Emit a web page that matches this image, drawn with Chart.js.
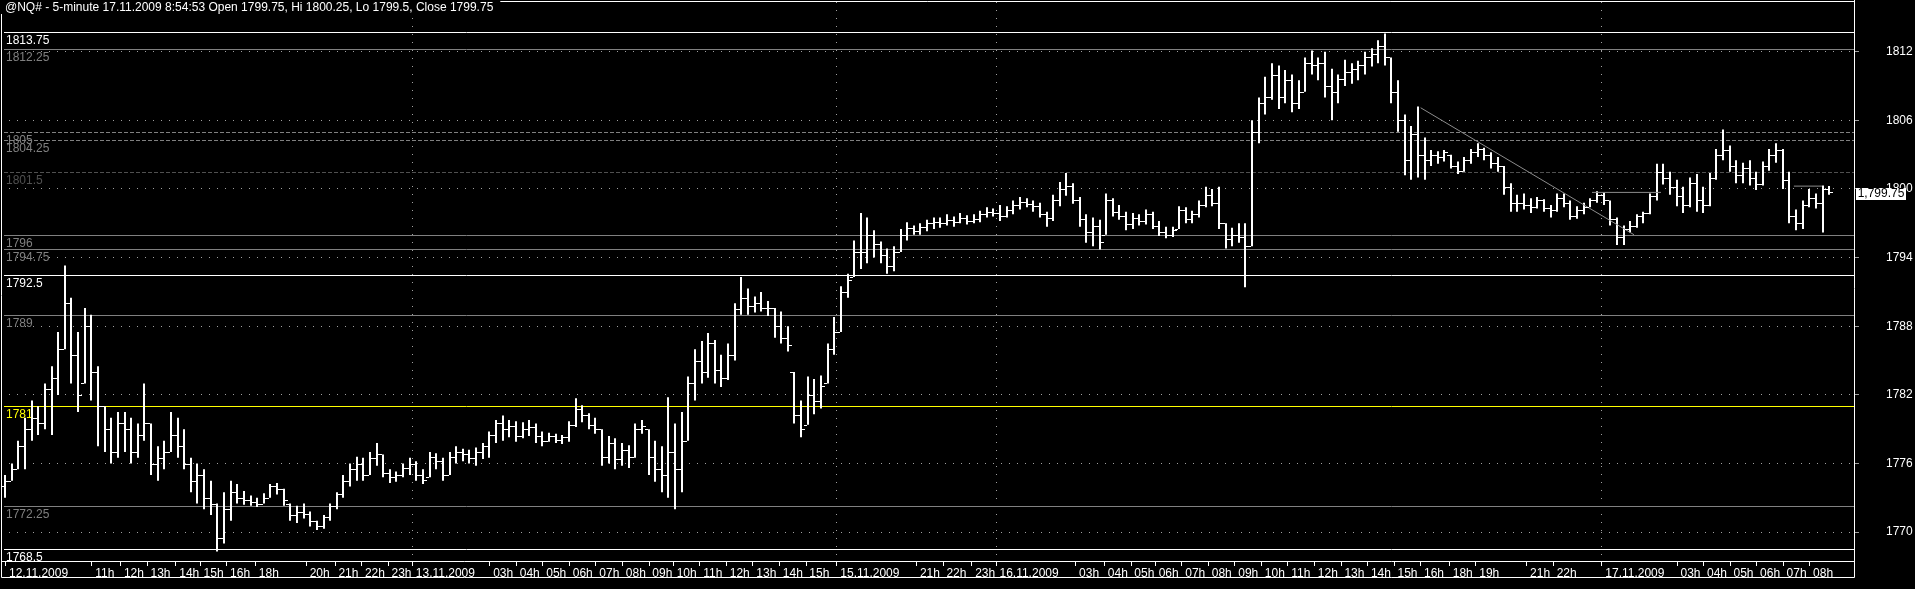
<!DOCTYPE html>
<html>
<head>
<meta charset="utf-8">
<style>
html, body { margin: 0; padding: 0; background: #000; overflow: hidden; }
canvas { display: block; }
</style>
</head>
<body>
<canvas id="grafica" width="1915" height="589"></canvas>
<script src="https://cdn.jsdelivr.net/npm/chart.js@4.4.1/dist/chart.umd.min.js"></script>
<script>
// barras de @NQ# (cada valor agrupa 3 barras de 5 minutos)
const maximos = [
  1775,1776,1778,1780,1781.5,1781,1783,1784.5,1787.5,1793.3,
  1790.5,1787.5,1789.6,1789,1784.5,1781,1780,1780.5,1780.5,1780,
  1779.5,1783,1779.5,1777.5,1778,1780.5,1780,1779,1776.5,1776,
  1775.5,1774.5,1772.5,1773.5,1774.5,1774.2,1773.6,1773.2,1773,1773.4,
  1774.2,1774.3,1773.8,1772.5,1772.3,1772.5,1771.8,1771,1771.5,1772.5,
  1773.5,1775,1776,1776.6,1776.5,1777,1777.8,1776.8,1775.5,1775.3,
  1776,1776.5,1776.2,1775.5,1777,1776.9,1776.5,1777,1777.5,1777.3,
  1777.2,1777.4,1777.8,1778.8,1779.8,1780.2,1779.8,1779.7,1779.6,1779.8,
  1779.5,1778.8,1778.7,1778.6,1778.5,1779.7,1781.7,1781.1,1780.4,1780,
  1779,1778.4,1778.2,1777.8,1777.6,1779.5,1779.8,1779,1778,1777.5,
  1781.8,1779.5,1780.5,1783.6,1786,1786.7,1787.4,1786.8,1785.5,1786.5,
  1790,1792.3,1791.3,1790.6,1791,1790.2,1789.6,1789.3,1788,1784,
  1781.5,1783.6,1783.4,1783.7,1786.5,1788.8,1791.5,1792.6,1795.5,1797.9,
  1797.5,1796.4,1795.4,1794.8,1795,1796.5,1797.1,1796.8,1797,1797.3,
  1797.5,1797.5,1797.8,1797.6,1797.9,1797.7,1797.8,1798.1,1798.4,1798.3,
  1798.6,1798.5,1799,1799.3,1799.2,1799,1798.8,1798,1799.5,1800.6,
  1801.4,1800.5,1799.3,1797.8,1797.5,1797.3,1799.6,1799.2,1798.6,1798,
  1797.9,1797.8,1798.2,1798,1797.2,1796.7,1796.7,1798.5,1798.4,1798.1,
  1799,1800.2,1800,1800.2,1797,1796.6,1797,1797,1806,1808,
  1809.8,1811,1810.8,1810.4,1810,1809.5,1811.5,1812.1,1811.5,1812,
  1810.5,1810,1811.3,1811,1811.2,1812,1812.3,1813,1813.6,1811.5,
  1809.5,1806.5,1805.5,1807.2,1804.5,1803.4,1803.3,1803.4,1803,1802.4,
  1802.8,1803.5,1804,1803.6,1803.2,1802.8,1802,1800.5,1799.5,1799.6,
  1799.2,1799.3,1799.1,1798.6,1799.6,1799.6,1799,1798.5,1798.8,1799.2,
  1799.8,1799.7,1799,1797.5,1796.8,1797.2,1797.8,1798,1799.6,1802.2,
  1802.2,1801.5,1800.8,1800.2,1801,1801.3,1800.2,1801.4,1803.5,1805.2,
  1803.8,1802.5,1802.3,1802.5,1801.5,1802.4,1803.5,1804,1803.5,1801.5,
  1798.2,1799,1800,1799.6,1800.3,1800.25
];
const minimos = [
  1773,1774.5,1775.5,1775.5,1778,1778.5,1779,1778.5,1782,1786,
  1783,1780.5,1783,1781.5,1777.5,1777,1776,1776.5,1777,1776,
  1776.5,1778,1775,1774.5,1775.5,1777,1776.5,1775.5,1773.5,1772.5,
  1772,1771.5,1768.3,1769,1771,1772.5,1772.4,1772.3,1772.2,1772.5,
  1773,1773.3,1772.3,1771,1770.8,1771.2,1770.5,1770.2,1770.3,1771,
  1772,1773,1774,1774.5,1774.5,1775,1775.8,1774.8,1774.3,1774.4,
  1774.8,1775,1774.5,1774.2,1774.8,1775.5,1774.5,1775,1776,1776.2,
  1776,1775.8,1776.4,1776.5,1777.8,1778,1778.3,1777.9,1778.2,1778.4,
  1777.8,1777.5,1777.9,1777.8,1777.7,1777.9,1779.2,1779.6,1779,1778.6,
  1775.8,1776,1775.5,1775.8,1775.6,1776.5,1778.6,1775,1774.4,1773.5,
  1773,1772,1773.5,1778,1781.5,1783,1783.5,1783,1782.7,1783.3,
  1785,1789,1789,1789.2,1789.3,1788.9,1787,1786.5,1785.8,1779.5,
  1778.3,1779.4,1780.3,1780.8,1783,1785.5,1787.5,1790.5,1792.3,1793,
  1793.5,1794,1793.5,1792.6,1792.8,1794.5,1795.5,1796,1796,1796.3,
  1796.5,1796.6,1796.8,1796.7,1797,1796.9,1797,1797.1,1797.5,1797.6,
  1797.2,1797.5,1797.8,1798.2,1798.4,1798,1797.5,1796.7,1797.2,1798.5,
  1799.4,1798.7,1796.7,1795.3,1795,1794.7,1796,1797.6,1797.3,1796.4,
  1796.5,1796.8,1796.9,1796.5,1795.9,1795.7,1795.8,1796.5,1797,1797,
  1797.5,1798.4,1798.5,1796.5,1794.8,1795,1795.3,1791.4,1795,1804,
  1806.5,1807.8,1807,1807.5,1806.7,1807,1808.5,1810,1809.5,1808,
  1806,1807.5,1809,1809.2,1809.5,1810,1810.7,1811,1810.8,1807.5,
  1805,1801.2,1800.8,1801,1800.8,1802,1802.2,1802.4,1801.8,1801.3,
  1801.5,1802.2,1802.8,1802.5,1801.8,1801.5,1799.5,1798,1798,1798.2,
  1797.9,1798.3,1798,1797.5,1798,1798.4,1797.3,1797.4,1797.8,1798.4,
  1798.8,1798.6,1796.8,1795.1,1795.1,1796.2,1796.6,1797,1797.8,1799,
  1800.4,1799.5,1798.5,1797.9,1798.4,1798,1797.9,1798.5,1800.8,1802.5,
  1801.5,1800.5,1800.5,1800.3,1799.9,1800.3,1801.6,1802.3,1800,1797,
  1796.4,1796.5,1798.4,1798.3,1796.2,1799.5
];
const cierres = [
  1774.5,1775.5,1777.5,1779,1780,1779.5,1782.5,1783.5,1786,1790,
  1785.5,1782,1788,1784,1781,1779,1777,1779.5,1779,1777,
  1778.5,1779.5,1776,1776.5,1777,1778.5,1777.5,1776,1774.5,1775,
  1773,1772.5,1769.5,1772,1773.5,1773,1772.8,1772.6,1772.5,1773,
  1774,1773.8,1772.8,1771.5,1771.8,1771.6,1771,1770.5,1771.3,1772.3,
  1773.3,1774.5,1775.5,1776,1775,1776.5,1776.8,1775.2,1774.8,1775,
  1775.6,1776,1775,1774.6,1776.6,1776.2,1775,1776.6,1777,1776.8,
  1776.5,1777,1777.5,1778.5,1779.5,1779,1779.3,1778.4,1779,1779.2,
  1778.4,1778,1778.4,1778.1,1778.3,1779.4,1780.8,1780.2,1779.4,1779,
  1776.6,1777.8,1776.4,1777.2,1776.6,1779,1779.3,1776.6,1775.5,1775,
  1777,1775.5,1778,1783,1785,1784,1786.5,1784.2,1783.5,1785.5,
  1789.5,1790.5,1789.8,1790,1789.6,1789.6,1788,1787,1786.4,1780.2,
  1779,1782,1781.5,1782.8,1786,1787.5,1791,1792,1794.5,1794.5,
  1796,1795.2,1794.2,1793.3,1794.5,1796,1796.6,1796.3,1796.7,1797,
  1797.1,1797,1797.3,1797.1,1797.5,1797.2,1797.4,1797.8,1798,1797.9,
  1797.6,1798.2,1798.6,1798.9,1798.7,1798.5,1797.8,1797.5,1799,1800,
  1800.3,1799,1797.4,1796.2,1796.8,1795.4,1799,1798,1797.6,1796.9,
  1797.5,1797.2,1797.8,1796.8,1796.2,1796,1796.4,1798.2,1797.4,1797.8,
  1798.6,1799.5,1798.8,1797,1795.6,1796,1795.8,1795,1805,1807.5,
  1808,1810,1808,1809.5,1807.5,1808.5,1811,1810.8,1811,1809,
  1808.5,1809.6,1810.2,1810.5,1810.8,1811.5,1811.8,1812.5,1811.5,1808.5,
  1806,1802.5,1804.8,1803,1802.5,1803,1802.8,1803.2,1802,1801.6,
  1802.5,1803.2,1803.5,1803,1802.3,1802,1800.2,1798.8,1798.8,1798.6,
  1798.4,1799,1798.3,1798.2,1799.2,1798.8,1797.6,1798.2,1798.4,1799,
  1799.5,1799,1797.4,1795.8,1796.5,1796.8,1797.6,1797.9,1799.4,1801.5,
  1801,1800.2,1799.4,1798.6,1800.5,1799,1798.6,1801,1803,1803.4,
  1802,1801.2,1801.8,1801,1800.4,1802,1803,1803.4,1800.8,1797.6,
  1797,1798.6,1799.2,1798.8,1800,1799.75
];
const aperturaInicial = 1774;
const paso = 3; // huecos de 5 minutos por cada barra

// eje de tiempo: posicion (hueco de 5 min) y texto
const posTicks = [0,39,52,64,77,88,100,113,136,149,161,173,184,219,231,243,255,267,279,291,302,314,326,338,350,362,376,412,424,437,448,484,497,509,520,532,544,556,568,580,592,604,616,628,640,653,665,688,700,722,756,768,780,792,804,816];
const etiquetasTicks = ['12.11.2009','11h','12h','13h','14h','15h','16h','18h','20h','21h','22h','23h','13.11.2009','03h','04h','05h','06h','07h','08h','09h','10h','11h','12h','13h','14h','15h','15.11.2009','21h','22h','23h','16.11.2009','03h','04h','05h','06h','07h','08h','09h','10h','11h','12h','13h','14h','15h','16h','18h','19h','21h','22h','17.11.2009','03h','04h','05h','06h','07h','08h'];
const ticksPrecio = [1770, 1776, 1782, 1788, 1794, 1800, 1806, 1812];

// niveles horizontales con su etiqueta
const niveles = [1813.75, 1812.25, 1805, 1804.25, 1801.5, 1796, 1794.75, 1792.5, 1789, 1781, 1772.25, 1768.5];
const etiquetasNiveles = ['1813.75', '1812.25', '1805', '1804.25', '1801.5', '1796', '1794.75', '1792.5', '1789', '1781', '1772.25', '1768.5'];
const coloresNiveles = ['#ffffff', '#808080', '#808080', '#808080', '#505050', '#808080', '#808080', '#ffffff', '#808080', '#ffff00', '#808080', '#ffffff'];
const guionesNiveles = [[], [], [4, 2], [4, 2], [4, 2], [], [], [], [], [], [], []];

// dibujos: linea de tendencia y dos lineas cortas
const tendencia = [{x: 640, y: 1807.1}, {x: 736.5, y: 1796}];
const lineaCorta1 = [{x: 717.5, y: 1799.7}, {x: 748.7, y: 1799.7}];
const lineaCorta2 = [{x: 808.8, y: 1800.25}, {x: 821.5, y: 1800.25}];

const titulo = '@NQ# - 5-minute 17.11.2009 8:54:53 Open 1799.75, Hi 1800.25, Lo 1799.5, Close 1799.75';
const ultimoPrecio = '1,799.75';

const fuente = '12px "Liberation Sans", Arial, sans-serif';
Chart.defaults.font.family = '"Liberation Sans", Arial, sans-serif';
Chart.defaults.font.size = 12;
Chart.defaults.color = '#ffffff';

const barras = maximos.map((h, i) => ({x: i * paso, y: [minimos[i], h]}));

const extras = {
  id: 'extras',
  beforeDatasetsDraw(chart) {
    const {ctx, chartArea, scales} = chart;
    // barras a pixel entero para que salgan nitidas
    chart.getDatasetMeta(0).data.forEach(b => { b.x = Math.floor(b.x); });
    ctx.save();
    ctx.lineWidth = 1;
    ctx.font = fuente;
    ctx.textBaseline = 'top';
    ctx.textAlign = 'left';
    niveles.forEach((v, i) => {
      const y = Math.round(scales.y.getPixelForValue(v)) + 0.5;
      ctx.strokeStyle = coloresNiveles[i];
      ctx.setLineDash(guionesNiveles[i]);
      ctx.beginPath();
      ctx.moveTo(chartArea.left + 3, y);
      ctx.lineTo(chartArea.right, y);
      ctx.stroke();
      ctx.fillStyle = coloresNiveles[i];
      ctx.fillText(etiquetasNiveles[i], chartArea.left + 5, y + 2);
    });
    ctx.restore();
  },
  afterDatasetsDraw(chart) {
    // marcas de apertura (izq) y cierre (der)
    const {ctx, scales} = chart;
    const meta = chart.getDatasetMeta(0);
    ctx.save();
    ctx.fillStyle = '#ffffff';
    meta.data.forEach((b, i) => {
      const x = b.x;
      let ap = i ? cierres[i - 1] : aperturaInicial;
      ap = Math.min(Math.max(ap, minimos[i]), maximos[i]);
      ctx.fillRect(x - 4, Math.round(scales.y.getPixelForValue(ap)), 3, 1);
      ctx.fillRect(x + 1, Math.round(scales.y.getPixelForValue(cierres[i])), 3, 1);
    });
    ctx.restore();
  },
  afterDraw(chart) {
    const {ctx, chartArea, scales} = chart;
    const l = chartArea.left + 0.5, r = chartArea.right + 0.5;
    const b = chartArea.bottom + 0.5, fondo = b + 16;
    ctx.save();
    ctx.strokeStyle = '#ffffff';
    ctx.lineWidth = 1;
    ctx.setLineDash([]);
    ctx.beginPath();
    ctx.moveTo(0, 1.5); ctx.lineTo(r, 1.5);
    ctx.moveTo(r, 0); ctx.lineTo(r, fondo);
    ctx.moveTo(l, 14); ctx.lineTo(l, fondo);
    ctx.moveTo(l, b); ctx.lineTo(r, b);
    ctx.moveTo(l, fondo); ctx.lineTo(r, fondo);
    ctx.stroke();

    // titulo
    ctx.font = fuente;
    ctx.textBaseline = 'middle';
    ctx.textAlign = 'left';
    const w = ctx.measureText(titulo).width;
    ctx.fillStyle = '#000000';
    ctx.fillRect(0, 0, w + 12, 14);
    ctx.fillStyle = '#ffffff';
    ctx.fillText(titulo, 5, 8);

    // recuadro del ultimo precio
    const yp = Math.round(scales.y.getPixelForValue(cierres[cierres.length - 1]));
    ctx.fillStyle = '#ffffff';
    ctx.fillRect(chartArea.right + 2, yp - 4, 50, 12);
    ctx.fillStyle = '#000000';
    ctx.textAlign = 'center';
    ctx.fillText(ultimoPrecio, chartArea.right + 27, yp + 2);
    ctx.restore();
  }
};

const grafica = new Chart(document.getElementById('grafica'), {
  type: 'bar',
  data: {
    datasets: [
      {
        type: 'bar',
        data: barras,
        backgroundColor: '#ffffff',
        borderWidth: 0,
        barThickness: 2,
        inflateAmount: 0,
        order: 2
      },
      { type: 'line', data: tendencia, borderColor: '#8c8c8c', borderWidth: 1, pointRadius: 0, pointHoverRadius: 0, order: 1 },
      { type: 'line', data: lineaCorta1, borderColor: '#8c8c8c', borderWidth: 1, pointRadius: 0, pointHoverRadius: 0, order: 1 },
      { type: 'line', data: lineaCorta2, borderColor: '#8c8c8c', borderWidth: 1, pointRadius: 0, pointHoverRadius: 0, order: 1 }
    ]
  },
  options: {
    responsive: false,
    animation: false,
    devicePixelRatio: 1,
    layout: { autoPadding: false, padding: { left: 1, top: 2, right: 0, bottom: 0 } },
    plugins: { legend: { display: false }, tooltip: { enabled: false } },
    scales: {
      x: {
        type: 'linear',
        min: -2.1,
        max: 836,
        offset: false,
        afterBuildTicks: (s) => { s.ticks = posTicks.map(v => ({value: v})); },
        afterFit: (s) => { s.height = 28; s.paddingLeft = 0; s.paddingRight = 0; },
        ticks: {
          autoSkip: false,
          maxRotation: 0,
          minRotation: 0,
          align: 'start',
          padding: 0,
          color: '#ffffff',
          callback: (v, i) => ' ' + etiquetasTicks[i]
        },
        grid: {
          offset: false,
          color: (c) => (c.index > 0 && etiquetasTicks[c.index] && etiquetasTicks[c.index].includes('.')) ? '#a0a0a0' : 'rgba(0,0,0,0)',
          tickColor: '#ffffff',
          tickLength: 5
        },
        border: { display: false, dash: [1, 7] }
      },
      y: {
        position: 'right',
        min: 1767.48,
        max: 1816.344,
        afterBuildTicks: (s) => { s.ticks = ticksPrecio.map(v => ({value: v})); },
        afterFit: (s) => { s.width = 61; s.paddingTop = 0; s.paddingBottom = 0; },
        ticks: { padding: 27, color: '#ffffff', callback: (v) => String(v) },
        grid: { color: '#a0a0a0', tickColor: '#a0a0a0', tickLength: 5 },
        border: { display: false, dash: [1, 7] }
      }
    }
  },
  plugins: [extras]
});
</script>
</body>
</html>
